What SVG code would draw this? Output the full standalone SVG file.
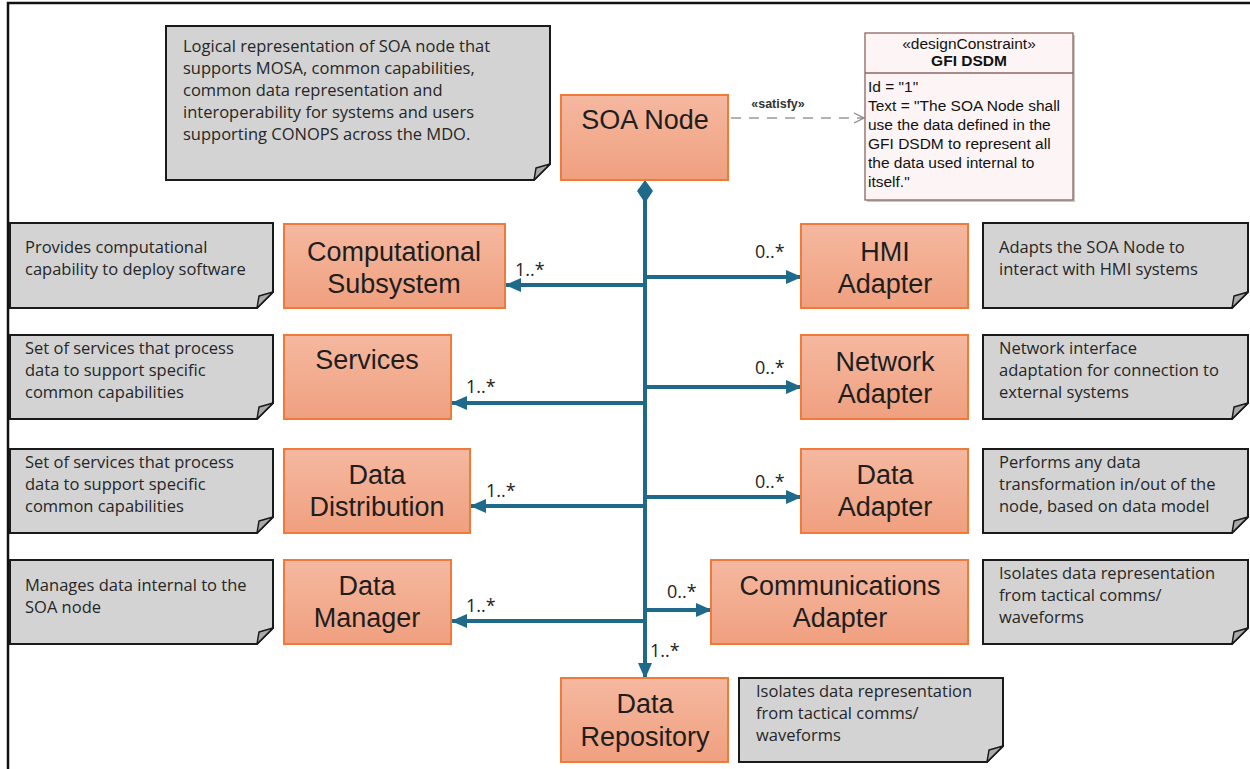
<svg xmlns="http://www.w3.org/2000/svg" width="1250" height="769" viewBox="0 0 1250 769">
  <defs>
    <linearGradient id="blockFill" x1="0" y1="0" x2="0" y2="1">
      <stop offset="0" stop-color="#f5b8a0"/>
      <stop offset="1" stop-color="#f0a07f"/>
    </linearGradient>
    <marker id="solidHead" viewBox="0 0 16 14" refX="15" refY="7" markerWidth="16" markerHeight="14" markerUnits="userSpaceOnUse" orient="auto">
      <path d="M0,0 L16,7 L0,14 Z" fill="#1f6a8b"/>
    </marker>
    <marker id="openHead" viewBox="0 0 12 12" refX="11" refY="6" markerWidth="12" markerHeight="12" markerUnits="userSpaceOnUse" orient="auto">
      <path d="M1,1 L11,6 L1,11" fill="none" stroke="#888" stroke-width="1.3"/>
    </marker>
  </defs>
  <style>
    .block { fill: url(#blockFill); stroke: #f07a3a; stroke-width: 2; }
    .blockText { font-family: "Liberation Sans", Arial, sans-serif; font-size: 27px; fill: #1e1e1e; text-anchor: middle; }
    .note { fill: #d3d3d3; stroke: #1a1a1a; stroke-width: 2; }
    .fold { fill: #a9a9a9; stroke: #1a1a1a; stroke-width: 1.5; stroke-linejoin: round; }
    .noteText { font-family: "Open Sans", "Liberation Sans", sans-serif; font-size: 16.5px; fill: #262626; }
    .link { fill: none; stroke: #1f6a8b; stroke-width: 4; }
    .mult { font-family: "Open Sans", "Liberation Sans", sans-serif; font-size: 18px; fill: #222; }
    .req { fill: #fdf5f5; stroke: #8e6464; stroke-width: 1.3; }
    .reqText { font-family: "Liberation Sans", Arial, sans-serif; font-size: 15.5px; fill: #111; }
  </style>

  <rect width="1250" height="769" fill="#ffffff"/>
  <!-- outer frame -->
  <path d="M8,769 V3 H1250" fill="none" stroke="#111" stroke-width="2.5"/>

  <!-- connectors -->
  <g id="connectors">
    <line class="link" x1="645" y1="200" x2="645" y2="678" marker-end="url(#solidHead)"/>
    <path d="M645,180 L653,191 L645,203 L637,191 Z" fill="#1f6a8b"/>
    <!-- left parts -->
    <line class="link" x1="647" y1="285" x2="506" y2="285" marker-end="url(#solidHead)"/>
    <line class="link" x1="647" y1="403" x2="452" y2="403" marker-end="url(#solidHead)"/>
    <line class="link" x1="647" y1="506" x2="471" y2="506" marker-end="url(#solidHead)"/>
    <line class="link" x1="647" y1="621" x2="452" y2="621" marker-end="url(#solidHead)"/>
    <!-- right parts -->
    <line class="link" x1="643" y1="277" x2="801" y2="277" marker-end="url(#solidHead)"/>
    <line class="link" x1="643" y1="387" x2="801" y2="387" marker-end="url(#solidHead)"/>
    <line class="link" x1="643" y1="497" x2="801" y2="497" marker-end="url(#solidHead)"/>
    <line class="link" x1="643" y1="610" x2="711" y2="610" marker-end="url(#solidHead)"/>
    <!-- multiplicities -->
    <text class="mult" x="515" y="276">1..*</text>
    <text class="mult" x="466" y="393">1..*</text>
    <text class="mult" x="486" y="497">1..*</text>
    <text class="mult" x="466" y="612">1..*</text>
    <text class="mult" x="755" y="258">0..*</text>
    <text class="mult" x="755" y="374">0..*</text>
    <text class="mult" x="755" y="488">0..*</text>
    <text class="mult" x="667" y="598">0..*</text>
    <text class="mult" x="650" y="657">1..*</text>
    <!-- satisfy dependency -->
    <line x1="731" y1="118" x2="864" y2="118" stroke="#999" stroke-width="1.6" stroke-dasharray="10,8" marker-end="url(#openHead)"/>
    <text x="778" y="108" text-anchor="middle" font-family="Liberation Sans, Arial, sans-serif" font-size="12.5" font-weight="bold" fill="#333">«satisfy»</text>
  </g>

  <!-- description note for SOA Node -->
  <g id="note-soa">
    <path class="note" d="M166,26 H550 V164 L534,180 H166 Z"/>
    <path class="fold" d="M550,164 L536,168 L534,180 Z"/>
    <text class="noteText" x="183" y="52">Logical representation of  SOA node that</text>
    <text class="noteText" x="183" y="74">supports MOSA, common capabilities,</text>
    <text class="noteText" x="183" y="96">common data representation and</text>
    <text class="noteText" x="183" y="118">interoperability for systems and users</text>
    <text class="noteText" x="183" y="140">supporting CONOPS across the MDO.</text>
  </g>

  <g id="soa-node">
    <rect class="block" x="561" y="95" width="167" height="85"/>
    <text class="blockText" x="645" y="129">SOA Node</text>
  </g>

  <g id="gfi-dsdm">
    <rect x="867" y="35" width="208" height="167" fill="#c8c8c8"/>
    <rect class="req" x="865" y="33" width="208" height="167"/>
    <line x1="865" y1="73" x2="1073" y2="73" stroke="#8e6464" stroke-width="1.3"/>
    <text class="reqText" x="969" y="49" text-anchor="middle" font-size="12">«designConstraint»</text>
    <text class="reqText" x="969" y="66" text-anchor="middle" font-size="12" font-weight="bold">GFI DSDM</text>
    <text class="reqText" x="868" y="92">Id = "1"</text>
    <text class="reqText" x="868" y="111">Text = "The SOA Node shall</text>
    <text class="reqText" x="868" y="130">use the data defined in the</text>
    <text class="reqText" x="868" y="149">GFI DSDM to represent all</text>
    <text class="reqText" x="868" y="168">the data used internal to</text>
    <text class="reqText" x="868" y="187">itself."</text>
  </g>

  <!-- left column -->
  <g id="note-computational">
    <path class="note" d="M10,223 H273 V292 L257,308 H10 Z"/>
    <path class="fold" d="M273,292 L259,296 L257,308 Z"/>
    <text class="noteText" x="25" y="253">Provides computational</text>
    <text class="noteText" x="25" y="275">capability to deploy software</text>
  </g>
  <g id="computational-subsystem">
    <rect class="block" x="284" y="224" width="221" height="84"/>
    <text class="blockText" x="394" y="261">Computational</text>
    <text class="blockText" x="394" y="293">Subsystem</text>
  </g>

  <g id="note-services">
    <path class="note" d="M10,335 H273 V403 L257,419 H10 Z"/>
    <path class="fold" d="M273,403 L259,407 L257,419 Z"/>
    <text class="noteText" x="25" y="354">Set of services that process</text>
    <text class="noteText" x="25" y="376">data to support specific</text>
    <text class="noteText" x="25" y="398">common capabilities</text>
  </g>
  <g id="services">
    <rect class="block" x="284" y="335" width="167" height="84"/>
    <text class="blockText" x="367" y="369">Services</text>
  </g>

  <g id="note-distribution">
    <path class="note" d="M10,449 H273 V517 L257,533 H10 Z"/>
    <path class="fold" d="M273,517 L259,521 L257,533 Z"/>
    <text class="noteText" x="25" y="468">Set of services that process</text>
    <text class="noteText" x="25" y="490">data to support specific</text>
    <text class="noteText" x="25" y="512">common capabilities</text>
  </g>
  <g id="data-distribution">
    <rect class="block" x="284" y="449" width="186" height="84"/>
    <text class="blockText" x="377" y="484">Data</text>
    <text class="blockText" x="377" y="516">Distribution</text>
  </g>

  <g id="note-manager">
    <path class="note" d="M10,560 H273 V628 L257,644 H10 Z"/>
    <path class="fold" d="M273,628 L259,632 L257,644 Z"/>
    <text class="noteText" x="25" y="591">Manages data internal to the</text>
    <text class="noteText" x="25" y="613">SOA node</text>
  </g>
  <g id="data-manager">
    <rect class="block" x="284" y="560" width="167" height="84"/>
    <text class="blockText" x="367" y="595">Data</text>
    <text class="blockText" x="367" y="627">Manager</text>
  </g>

  <!-- right column -->
  <g id="hmi-adapter">
    <rect class="block" x="801" y="224" width="167" height="84"/>
    <text class="blockText" x="885" y="261">HMI</text>
    <text class="blockText" x="885" y="293">Adapter</text>
  </g>
  <g id="note-hmi">
    <path class="note" d="M983,223 H1248 V292 L1232,308 H983 Z"/>
    <path class="fold" d="M1248,292 L1234,296 L1232,308 Z"/>
    <text class="noteText" x="999" y="253">Adapts the SOA Node to</text>
    <text class="noteText" x="999" y="275">interact with HMI systems</text>
  </g>

  <g id="network-adapter">
    <rect class="block" x="801" y="335" width="167" height="84"/>
    <text class="blockText" x="885" y="371">Network</text>
    <text class="blockText" x="885" y="403">Adapter</text>
  </g>
  <g id="note-network">
    <path class="note" d="M983,335 H1248 V403 L1232,419 H983 Z"/>
    <path class="fold" d="M1248,403 L1234,407 L1232,419 Z"/>
    <text class="noteText" x="999" y="354">Network interface</text>
    <text class="noteText" x="999" y="376">adaptation for connection to</text>
    <text class="noteText" x="999" y="398">external systems</text>
  </g>

  <g id="data-adapter">
    <rect class="block" x="801" y="449" width="167" height="84"/>
    <text class="blockText" x="885" y="484">Data</text>
    <text class="blockText" x="885" y="516">Adapter</text>
  </g>
  <g id="note-data-adapter">
    <path class="note" d="M983,449 H1248 V517 L1232,533 H983 Z"/>
    <path class="fold" d="M1248,517 L1234,521 L1232,533 Z"/>
    <text class="noteText" x="999" y="468">Performs any data</text>
    <text class="noteText" x="999" y="490">transformation in/out of the</text>
    <text class="noteText" x="999" y="512">node, based on data model</text>
  </g>

  <g id="communications-adapter">
    <rect class="block" x="711" y="560" width="257" height="84"/>
    <text class="blockText" x="840" y="595">Communications</text>
    <text class="blockText" x="840" y="627">Adapter</text>
  </g>
  <g id="note-comms">
    <path class="note" d="M983,560 H1248 V628 L1232,644 H983 Z"/>
    <path class="fold" d="M1248,628 L1234,632 L1232,644 Z"/>
    <text class="noteText" x="999" y="579">Isolates data representation</text>
    <text class="noteText" x="999" y="601">from tactical comms/</text>
    <text class="noteText" x="999" y="623">waveforms</text>
  </g>

  <!-- bottom -->
  <g id="data-repository">
    <rect class="block" x="561" y="678" width="167" height="84"/>
    <text class="blockText" x="645" y="713">Data</text>
    <text class="blockText" x="645" y="746">Repository</text>
  </g>
  <g id="note-repository">
    <path class="note" d="M739,678 H1003 V746 L987,762 H739 Z"/>
    <path class="fold" d="M1003,746 L989,750 L987,762 Z"/>
    <text class="noteText" x="756" y="697">Isolates data representation</text>
    <text class="noteText" x="756" y="719">from tactical comms/</text>
    <text class="noteText" x="756" y="741">waveforms</text>
  </g>
</svg>
